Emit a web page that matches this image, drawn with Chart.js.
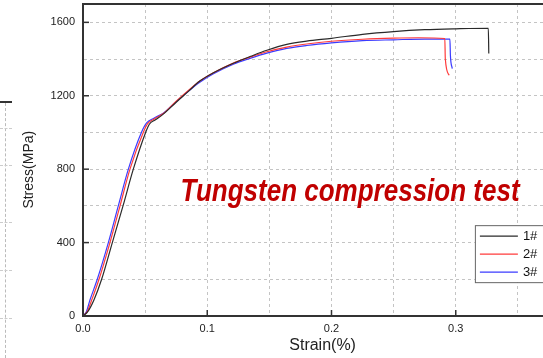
<!DOCTYPE html>
<html>
<head>
<meta charset="utf-8">
<script src="https://cdn.jsdelivr.net/npm/chart.js@4/dist/chart.umd.min.js"></script>
<style>
    html, body { margin: 0; padding: 0; background: #fff; overflow: hidden; }
    #wrap { position: relative; width: 590px; height: 358px; }
    /* край сусіднього графіка зліва */
    .edge-top { position: absolute; left: 0; top: 101px; width: 12px; border-top: 2px solid #333; }
    .edge-v { position: absolute; left: 5px; top: 103px; height: 255px; border-left: 1px dashed #bbb; }
    .edge-h { position: absolute; left: 0; width: 12px; border-top: 1px dashed #ccc; }
</style>
</head>
<body>
<div id="wrap">
    <canvas id="chart" width="590" height="358"></canvas>
    <div class="edge-top"></div>
    <div class="edge-v"></div>
    <div class="edge-h" style="top:128px"></div>
    <div class="edge-h" style="top:165px"></div>
    <div class="edge-h" style="top:222px"></div>
    <div class="edge-h" style="top:270px"></div>
    <div class="edge-h" style="top:318px"></div>
</div>
<script>
// Зразок 1#
const strain1 = [0, 0.004, 0.0088, 0.015, 0.0236, 0.0322, 0.0405, 0.0504, 0.0534, 0.058, 0.0646, 0.075, 0.085, 0.094, 0.105, 0.121, 0.135, 0.148, 0.164, 0.18, 0.2, 0.225, 0.25, 0.275, 0.3, 0.3262, 0.3266];
const stress1 = [0, 25, 87, 200, 400, 600, 800, 1000, 1045, 1068, 1100, 1165, 1225, 1280, 1325, 1377, 1415, 1448, 1480, 1498, 1513, 1535, 1550, 1560, 1565, 1568, 1430];
// Зразок 2#
const strain2 = [0, 0.0035, 0.007, 0.0129, 0.0217, 0.0298, 0.0378, 0.0485, 0.052, 0.057, 0.0646, 0.075, 0.085, 0.094, 0.105, 0.121, 0.135, 0.148, 0.164, 0.18, 0.2, 0.225, 0.25, 0.27, 0.2912, 0.2916, 0.2947];
const stress2 = [0, 25, 87, 200, 400, 600, 800, 1000, 1048, 1072, 1103, 1170, 1230, 1280, 1325, 1378, 1412, 1440, 1465, 1482, 1497, 1508, 1514, 1516, 1512, 1400, 1312];
// Зразок 3#
const strain3 = [0, 0.0028, 0.0056, 0.0115, 0.0204, 0.0284, 0.0365, 0.047, 0.0512, 0.057, 0.0646, 0.075, 0.085, 0.094, 0.105, 0.121, 0.135, 0.148, 0.164, 0.18, 0.2, 0.225, 0.25, 0.275, 0.2953, 0.2957, 0.2972];
const stress3 = [0, 25, 87, 200, 400, 600, 800, 1000, 1052, 1078, 1105, 1168, 1226, 1274, 1320, 1372, 1405, 1432, 1458, 1474, 1488, 1500, 1505, 1509, 1509, 1420, 1348];

const labels = ['1#', '2#', '3#'];
const colors = ['#2a2a2a', '#ff3b3b', '#3b3bff'];

const FONT = '"Liberation Sans", Arial, sans-serif';

function toPoints(xs, ys) {
    return xs.map((x, i) => ({x: x, y: ys[i]}));
}

// Рамка зверху, внутрішні засічки, підпис та легенда
const decor = {
    id: 'decor',
    afterDraw(chart) {
        const {ctx, chartArea: a, scales: {x, y}} = chart;
        ctx.save();
        ctx.strokeStyle = '#333';
        ctx.lineWidth = 2;
        ctx.beginPath();
        ctx.moveTo(a.left - 1, a.top);
        ctx.lineTo(a.right, a.top);
        ctx.stroke();

        ctx.lineWidth = 1.5;
        y.ticks.forEach(t => {
            if (t.value % 400 !== 0) return;
            const py = y.getPixelForValue(t.value);
            ctx.beginPath();
            ctx.moveTo(a.left, py);
            ctx.lineTo(a.left + 6, py);
            ctx.stroke();
        });
        x.ticks.forEach(t => {
            if (Math.round(t.value * 100) % 10 !== 0) return;
            const px = x.getPixelForValue(t.value);
            ctx.beginPath();
            ctx.moveTo(px, a.bottom);
            ctx.lineTo(px, a.bottom - 6);
            ctx.stroke();
        });

        // Назва (трохи витягнута по вертикалі)
        ctx.save();
        ctx.fillStyle = '#c00000';
        ctx.font = 'italic bold 26px ' + FONT;
        ctx.textBaseline = 'alphabetic';
        const tx = x.getPixelForValue(0.0785);
        const ty = y.getPixelForValue(625);
        ctx.translate(tx, ty);
        ctx.scale(1, 1.2);
        ctx.fillText('Tungsten compression test', 0, 0);
        ctx.restore();

        // Легенда
        const lx = x.getPixelForValue(0.3154);
        const ly = y.getPixelForValue(495);
        ctx.fillStyle = '#fff';
        ctx.fillRect(lx, ly, 90, 57);
        ctx.strokeStyle = '#666';
        ctx.lineWidth = 1;
        ctx.strokeRect(lx + 0.5, ly + 0.5, 90, 57);
        ctx.font = '13px ' + FONT;
        ctx.textBaseline = 'middle';
        chart.data.datasets.forEach((ds, i) => {
            const yy = ly + 11 + i * 18;
            ctx.strokeStyle = ds.borderColor;
            ctx.lineWidth = 1.2;
            ctx.beginPath();
            ctx.moveTo(lx + 5, yy);
            ctx.lineTo(lx + 43, yy);
            ctx.stroke();
            ctx.fillStyle = '#111';
            ctx.fillText(ds.label, lx + 48, yy);
        });
        ctx.restore();
    }
};

const ctx = document.getElementById('chart').getContext('2d');
const chart = new Chart(ctx, {
    type: 'line',
    data: {
        datasets: [
            {label: labels[0], data: toPoints(strain1, stress1), borderColor: colors[0]},
            {label: labels[1], data: toPoints(strain2, stress2), borderColor: colors[1]},
            {label: labels[2], data: toPoints(strain3, stress3), borderColor: colors[2]}
        ].map(ds => Object.assign(ds, {
            borderWidth: 1.2,
            pointRadius: 0,
            fill: false,
            cubicInterpolationMode: 'monotone'
        }))
    },
    options: {
        responsive: false,
        animation: false,
        layout: {padding: {top: 4, right: 10, left: 0, bottom: 0}},
        plugins: {legend: {display: false}, tooltip: {enabled: false}},
        scales: {
            x: {
                type: 'linear',
                min: 0,
                max: 0.4,
                afterFit(s) { s.height = 42; s.paddingRight = 0; s.paddingLeft = 0; },
                ticks: {
                    stepSize: 0.05,
                    autoSkip: false,
                    maxRotation: 0,
                    padding: 6,
                    color: '#222',
                    font: {family: FONT, size: 11},
                    callback: v => Math.round(v * 100) % 10 === 0 ? v.toFixed(1) : ''
                },
                grid: {color: '#c4c4c4', drawTicks: false},
                border: {color: '#333', width: 2, dash: [3, 3]},
                // пробіли в кінці зсувають підпис ліворуч, як на оригіналі
                title: {display: true, text: 'Strain(%)    ', color: '#222', font: {family: FONT, size: 16}, padding: {top: 0, bottom: 3}}
            },
            y: {
                min: 0,
                max: 1700,
                afterFit(s) { s.width = 83; s.paddingTop = 0; s.paddingBottom = 0; },
                ticks: {
                    stepSize: 200,
                    autoSkip: false,
                    padding: 8,
                    color: '#222',
                    font: {family: FONT, size: 11},
                    callback: v => v % 400 === 0 ? String(v) : ''
                },
                grid: {color: '#c4c4c4', drawTicks: false},
                border: {color: '#333', width: 2, dash: [3, 3]},
                title: {display: true, text: 'Stress(MPa)     ', color: '#222', font: {family: FONT, size: 14}, padding: {top: 21, bottom: 0}}
            }
        }
    },
    plugins: [decor]
});
</script>
</body>
</html>
